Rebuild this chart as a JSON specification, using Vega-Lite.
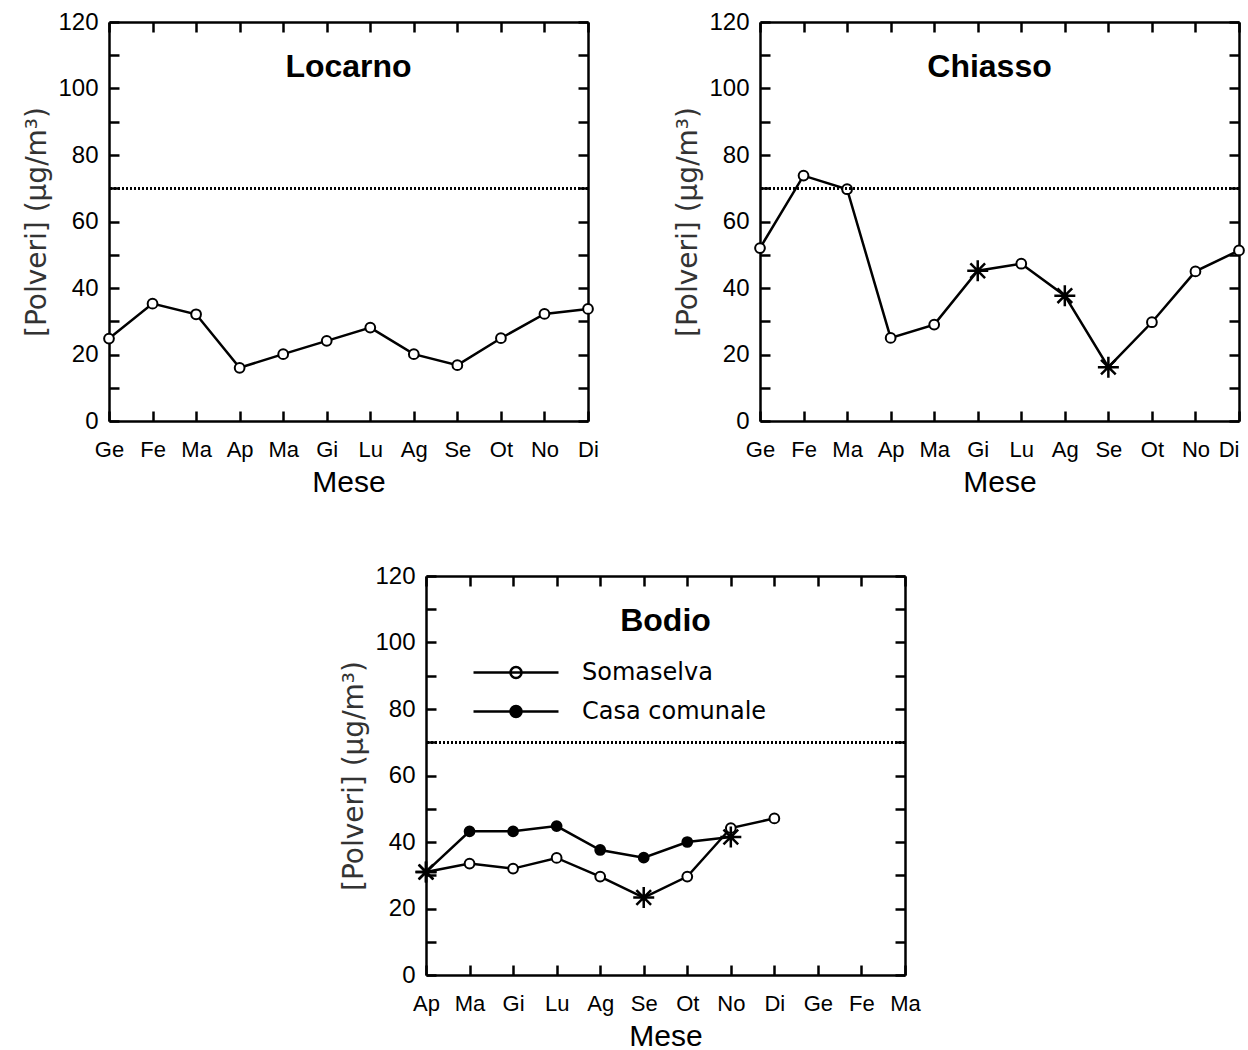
{
  "$schema": "https://vega.github.io/schema/vega-lite/v6.json",
  "background": "white",
  "padding": {"left": 23, "top": 10, "right": 5, "bottom": 5},
  "datasets": {
    "locarno": [
      {"n": 0, "mese": "Ge", "valore": 24.8, "evidenziato": false},
      {"n": 1, "mese": "Fe", "valore": 35.3, "evidenziato": false},
      {"n": 2, "mese": "Ma", "valore": 32.1, "evidenziato": false},
      {"n": 3, "mese": "Ap", "valore": 16.0, "evidenziato": false},
      {"n": 4, "mese": "Ma", "valore": 20.1, "evidenziato": false},
      {"n": 5, "mese": "Gi", "valore": 24.1, "evidenziato": false},
      {"n": 6, "mese": "Lu", "valore": 28.1, "evidenziato": false},
      {"n": 7, "mese": "Ag", "valore": 20.1, "evidenziato": false},
      {"n": 8, "mese": "Se", "valore": 16.8, "evidenziato": false},
      {"n": 9, "mese": "Ot", "valore": 24.9, "evidenziato": false},
      {"n": 10, "mese": "No", "valore": 32.2, "evidenziato": false},
      {"n": 11, "mese": "Di", "valore": 33.7, "evidenziato": false}
    ],
    "chiasso": [
      {"n": 0, "mese": "Ge", "valore": 52.0, "evidenziato": false},
      {"n": 1, "mese": "Fe", "valore": 73.8, "evidenziato": false},
      {"n": 2, "mese": "Ma", "valore": 69.7, "evidenziato": false},
      {"n": 3, "mese": "Ap", "valore": 25.0, "evidenziato": false},
      {"n": 4, "mese": "Ma", "valore": 29.0, "evidenziato": false},
      {"n": 5, "mese": "Gi", "valore": 45.2, "evidenziato": true},
      {"n": 6, "mese": "Lu", "valore": 47.3, "evidenziato": false},
      {"n": 7, "mese": "Ag", "valore": 37.7, "evidenziato": true},
      {"n": 8, "mese": "Se", "valore": 16.2, "evidenziato": true},
      {"n": 9, "mese": "Ot", "valore": 29.7, "evidenziato": false},
      {"n": 10, "mese": "No", "valore": 45.0, "evidenziato": false},
      {"n": 11, "mese": "Di", "valore": 51.3, "evidenziato": false}
    ],
    "bodio": [
      {"serie": "Somaselva", "n": 0, "mese": "Ap", "valore": 31.0, "evidenziato": true},
      {"serie": "Somaselva", "n": 1, "mese": "Ma", "valore": 33.5, "evidenziato": false},
      {"serie": "Somaselva", "n": 2, "mese": "Gi", "valore": 32.0, "evidenziato": false},
      {"serie": "Somaselva", "n": 3, "mese": "Lu", "valore": 35.2, "evidenziato": false},
      {"serie": "Somaselva", "n": 4, "mese": "Ag", "valore": 29.6, "evidenziato": false},
      {"serie": "Somaselva", "n": 5, "mese": "Se", "valore": 23.3, "evidenziato": true},
      {"serie": "Somaselva", "n": 6, "mese": "Ot", "valore": 29.6, "evidenziato": false},
      {"serie": "Somaselva", "n": 7, "mese": "No", "valore": 44.2, "evidenziato": false},
      {"serie": "Somaselva", "n": 8, "mese": "Di", "valore": 47.1, "evidenziato": false},
      {"serie": "Casa comunale", "n": 0, "mese": "Ap", "valore": 31.0, "evidenziato": true},
      {"serie": "Casa comunale", "n": 1, "mese": "Ma", "valore": 43.2, "evidenziato": false},
      {"serie": "Casa comunale", "n": 2, "mese": "Gi", "valore": 43.2, "evidenziato": false},
      {"serie": "Casa comunale", "n": 3, "mese": "Lu", "valore": 44.8, "evidenziato": false},
      {"serie": "Casa comunale", "n": 4, "mese": "Ag", "valore": 37.6, "evidenziato": false},
      {"serie": "Casa comunale", "n": 5, "mese": "Se", "valore": 35.3, "evidenziato": false},
      {"serie": "Casa comunale", "n": 6, "mese": "Ot", "valore": 40.0, "evidenziato": false},
      {"serie": "Casa comunale", "n": 7, "mese": "No", "valore": 41.5, "evidenziato": true}
    ]
  },
  "config": {
    "view": {"stroke": null},
    "axis": {
      "grid": false,
      "domainColor": "black",
      "domainWidth": 2.5,
      "tickColor": "black",
      "tickWidth": 2.5,
      "tickSize": -10,
      "labelFont": "Liberation Sans",
      "labelFontSize": 22,
      "labelColor": "black",
      "labelFlush": false,
      "labelOverlap": false,
      "titleFont": "Liberation Sans",
      "titleColor": "black",
      "titleFontWeight": "normal"
    },
    "title": {"font": "Liberation Sans", "fontSize": 32, "fontWeight": "bold", "color": "black", "anchor": "middle", "offset": -74}
  },
  "bounds": "flush",
  "spacing": 554,
  "vconcat": [
    {
      "bounds": "flush",
      "spacing": 172,
      "hconcat": [
        {
          "width": 479,
          "height": 399,
          "data": {"name": "locarno"},
          "title": {"text": "Locarno"},
          "resolve": {"axis": {"x": "independent", "y": "independent"}},
          "layer": [
            {
              "mark": {"type": "line", "color": "black", "strokeWidth": 2.5},
              "encoding": {
                "x": {"field": "n", "type": "quantitative", "scale": {"domain": [0, 11], "nice": false, "zero": false},
                  "axis": {"orient": "bottom", "values": [0,1,2,3,4,5,6,7,8,9,10,11], "labelExpr": "['Ge','Fe','Ma','Ap','Ma','Gi','Lu','Ag','Se','Ot','No','Di'][datum.value]", "labelPadding": 28, "title": "Mese", "titleFontSize": 30, "titlePadding": 7}},
                "y": {"field": "valore", "type": "quantitative", "scale": {"domain": [0, 120], "nice": false},
                  "axis": {"orient": "left", "values": [0,10,20,30,40,50,60,70,80,90,100,110,120], "labelExpr": "datum.value % 20 === 0 ? datum.label : ''", "labelFontSize": 24, "labelPadding": 21, "title": "[Polveri] (µg/m³)", "titleFont": "DejaVu Sans", "titleFontSize": 28, "titleColor": "#333", "titlePadding": 6}}
              }
            },
            {
              "transform": [{"filter": "!datum.evidenziato"}],
              "mark": {"type": "point", "shape": "circle", "filled": true, "fill": "white", "stroke": "black", "strokeWidth": 2, "size": 95, "opacity": 1},
              "encoding": {
                "x": {"field": "n", "type": "quantitative", "axis": {"orient": "top", "values": [0,1,2,3,4,5,6,7,8,9,10,11], "labels": false, "title": null}},
                "y": {"field": "valore", "type": "quantitative", "axis": {"orient": "right", "values": [0,10,20,30,40,50,60,70,80,90,100,110,120], "labels": false, "title": null}}
              }
            },
            {
              "transform": [{"filter": "datum.evidenziato"}],
              "mark": {"type": "point", "shape": "M-1,0L1,0M0,-1L0,1M-0.7,-0.7L0.7,0.7M-0.7,0.7L0.7,-0.7", "filled": false, "stroke": "black", "strokeWidth": 2.5, "size": 441, "opacity": 1},
              "encoding": {
                "x": {"field": "n", "type": "quantitative", "axis": null},
                "y": {"field": "valore", "type": "quantitative", "axis": null}
              }
            },
            {
              "mark": {"type": "rule", "color": "black", "strokeDash": [2, 2], "strokeWidth": 2},
              "encoding": {"y": {"datum": 70, "type": "quantitative", "axis": null}}
            }
          ]
        },
        {
          "width": 479,
          "height": 399,
          "data": {"name": "chiasso"},
          "title": {"text": "Chiasso", "dx": -10},
          "resolve": {"axis": {"x": "independent", "y": "independent"}},
          "layer": [
            {
              "mark": {"type": "line", "color": "black", "strokeWidth": 2.5},
              "encoding": {
                "x": {"field": "n", "type": "quantitative", "scale": {"domain": [0, 11], "nice": false, "zero": false},
                  "axis": {"orient": "bottom", "values": [0,1,2,3,4,5,6,7,8,9,10,11], "labelExpr": "['Ge','Fe','Ma','Ap','Ma','Gi','Lu','Ag','Se','Ot','No','Di'][datum.value]", "labelAlign": {"condition": {"test": "datum.value === 11", "value": "right"}, "value": "center"}, "labelPadding": 28, "title": "Mese", "titleFontSize": 30, "titlePadding": 7}},
                "y": {"field": "valore", "type": "quantitative", "scale": {"domain": [0, 120], "nice": false},
                  "axis": {"orient": "left", "values": [0,10,20,30,40,50,60,70,80,90,100,110,120], "labelExpr": "datum.value % 20 === 0 ? datum.label : ''", "labelFontSize": 24, "labelPadding": 21, "title": "[Polveri] (µg/m³)", "titleFont": "DejaVu Sans", "titleFontSize": 28, "titleColor": "#333", "titlePadding": 6}}
              }
            },
            {
              "transform": [{"filter": "!datum.evidenziato"}],
              "mark": {"type": "point", "shape": "circle", "filled": true, "fill": "white", "stroke": "black", "strokeWidth": 2, "size": 95, "opacity": 1},
              "encoding": {
                "x": {"field": "n", "type": "quantitative", "axis": {"orient": "top", "values": [0,1,2,3,4,5,6,7,8,9,10,11], "labels": false, "title": null}},
                "y": {"field": "valore", "type": "quantitative", "axis": {"orient": "right", "values": [0,10,20,30,40,50,60,70,80,90,100,110,120], "labels": false, "title": null}}
              }
            },
            {
              "transform": [{"filter": "datum.evidenziato"}],
              "mark": {"type": "point", "shape": "M-1,0L1,0M0,-1L0,1M-0.7,-0.7L0.7,0.7M-0.7,0.7L0.7,-0.7", "filled": false, "stroke": "black", "strokeWidth": 2.5, "size": 441, "opacity": 1},
              "encoding": {
                "x": {"field": "n", "type": "quantitative", "axis": null},
                "y": {"field": "valore", "type": "quantitative", "axis": null}
              }
            },
            {
              "mark": {"type": "rule", "color": "black", "strokeDash": [2, 2], "strokeWidth": 2},
              "encoding": {"y": {"datum": 70, "type": "quantitative", "axis": null}}
            }
          ]
        }
      ]
    },
    {
      "bounds": "flush",
      "spacing": 0,
      "hconcat": [
        {
          "width": 317,
          "height": 399,
          "data": {"values": []},
          "mark": "point",
          "encoding": {}
        },
        {
          "width": 479,
          "height": 399,
          "data": {"name": "bodio"},
          "title": {"text": "Bodio"},
          "resolve": {"axis": {"x": "independent", "y": "independent"}},
          "layer": [
            {
              "mark": {"type": "line", "color": "black", "strokeWidth": 2.5},
              "encoding": {
                "x": {"field": "n", "type": "quantitative", "scale": {"domain": [0, 11], "nice": false, "zero": false},
                  "axis": {"orient": "bottom", "values": [0,1,2,3,4,5,6,7,8,9,10,11], "labelExpr": "['Ap','Ma','Gi','Lu','Ag','Se','Ot','No','Di','Ge','Fe','Ma'][datum.value]", "labelPadding": 28, "title": "Mese", "titleFontSize": 30, "titlePadding": 7}},
                "y": {"field": "valore", "type": "quantitative", "scale": {"domain": [0, 120], "nice": false},
                  "axis": {"orient": "left", "values": [0,10,20,30,40,50,60,70,80,90,100,110,120], "labelExpr": "datum.value % 20 === 0 ? datum.label : ''", "labelFontSize": 24, "labelPadding": 21, "title": "[Polveri] (µg/m³)", "titleFont": "DejaVu Sans", "titleFontSize": 28, "titleColor": "#333", "titlePadding": 6}},
                "detail": {"field": "serie", "type": "nominal"}
              }
            },
            {
              "transform": [{"filter": "!datum.evidenziato"}],
              "mark": {"type": "point", "shape": "circle", "filled": true, "stroke": "black", "strokeWidth": 2, "size": 95, "opacity": 1},
              "encoding": {
                "x": {"field": "n", "type": "quantitative", "axis": {"orient": "top", "values": [0,1,2,3,4,5,6,7,8,9,10,11], "labels": false, "title": null}},
                "y": {"field": "valore", "type": "quantitative", "axis": {"orient": "right", "values": [0,10,20,30,40,50,60,70,80,90,100,110,120], "labels": false, "title": null}},
                "fill": {"field": "serie", "type": "nominal",
                  "scale": {"domain": ["Somaselva", "Casa comunale"], "range": ["white", "black"]},
                  "legend": {"orient": "none", "legendX": 363, "legendY": 631, "title": null, "padding": 0,
                    "symbolType": "M-1,0L1,0M-0.13,0A0.13,0.13 0 1,1 0.13,0A0.13,0.13 0 1,1 -0.13,0Z",
                    "symbolSize": 7225, "symbolStrokeColor": "black", "symbolStrokeWidth": 2.5, "symbolOpacity": 1,
                    "clipHeight": 39, "rowPadding": 0, "symbolOffset": 0, "labelOffset": 22,
                    "labelFont": "DejaVu Sans", "labelFontSize": 24, "labelColor": "black", "labelLimit": 400}}
              }
            },
            {
              "transform": [{"filter": "datum.evidenziato"}],
              "mark": {"type": "point", "shape": "M-1,0L1,0M0,-1L0,1M-0.7,-0.7L0.7,0.7M-0.7,0.7L0.7,-0.7", "filled": false, "stroke": "black", "strokeWidth": 2.5, "size": 441, "opacity": 1},
              "encoding": {
                "x": {"field": "n", "type": "quantitative", "axis": null},
                "y": {"field": "valore", "type": "quantitative", "axis": null}
              }
            },
            {
              "mark": {"type": "rule", "color": "black", "strokeDash": [2, 2], "strokeWidth": 2},
              "encoding": {"y": {"datum": 70, "type": "quantitative", "axis": null}}
            }
          ]
        }
      ]
    }
  ]
}
